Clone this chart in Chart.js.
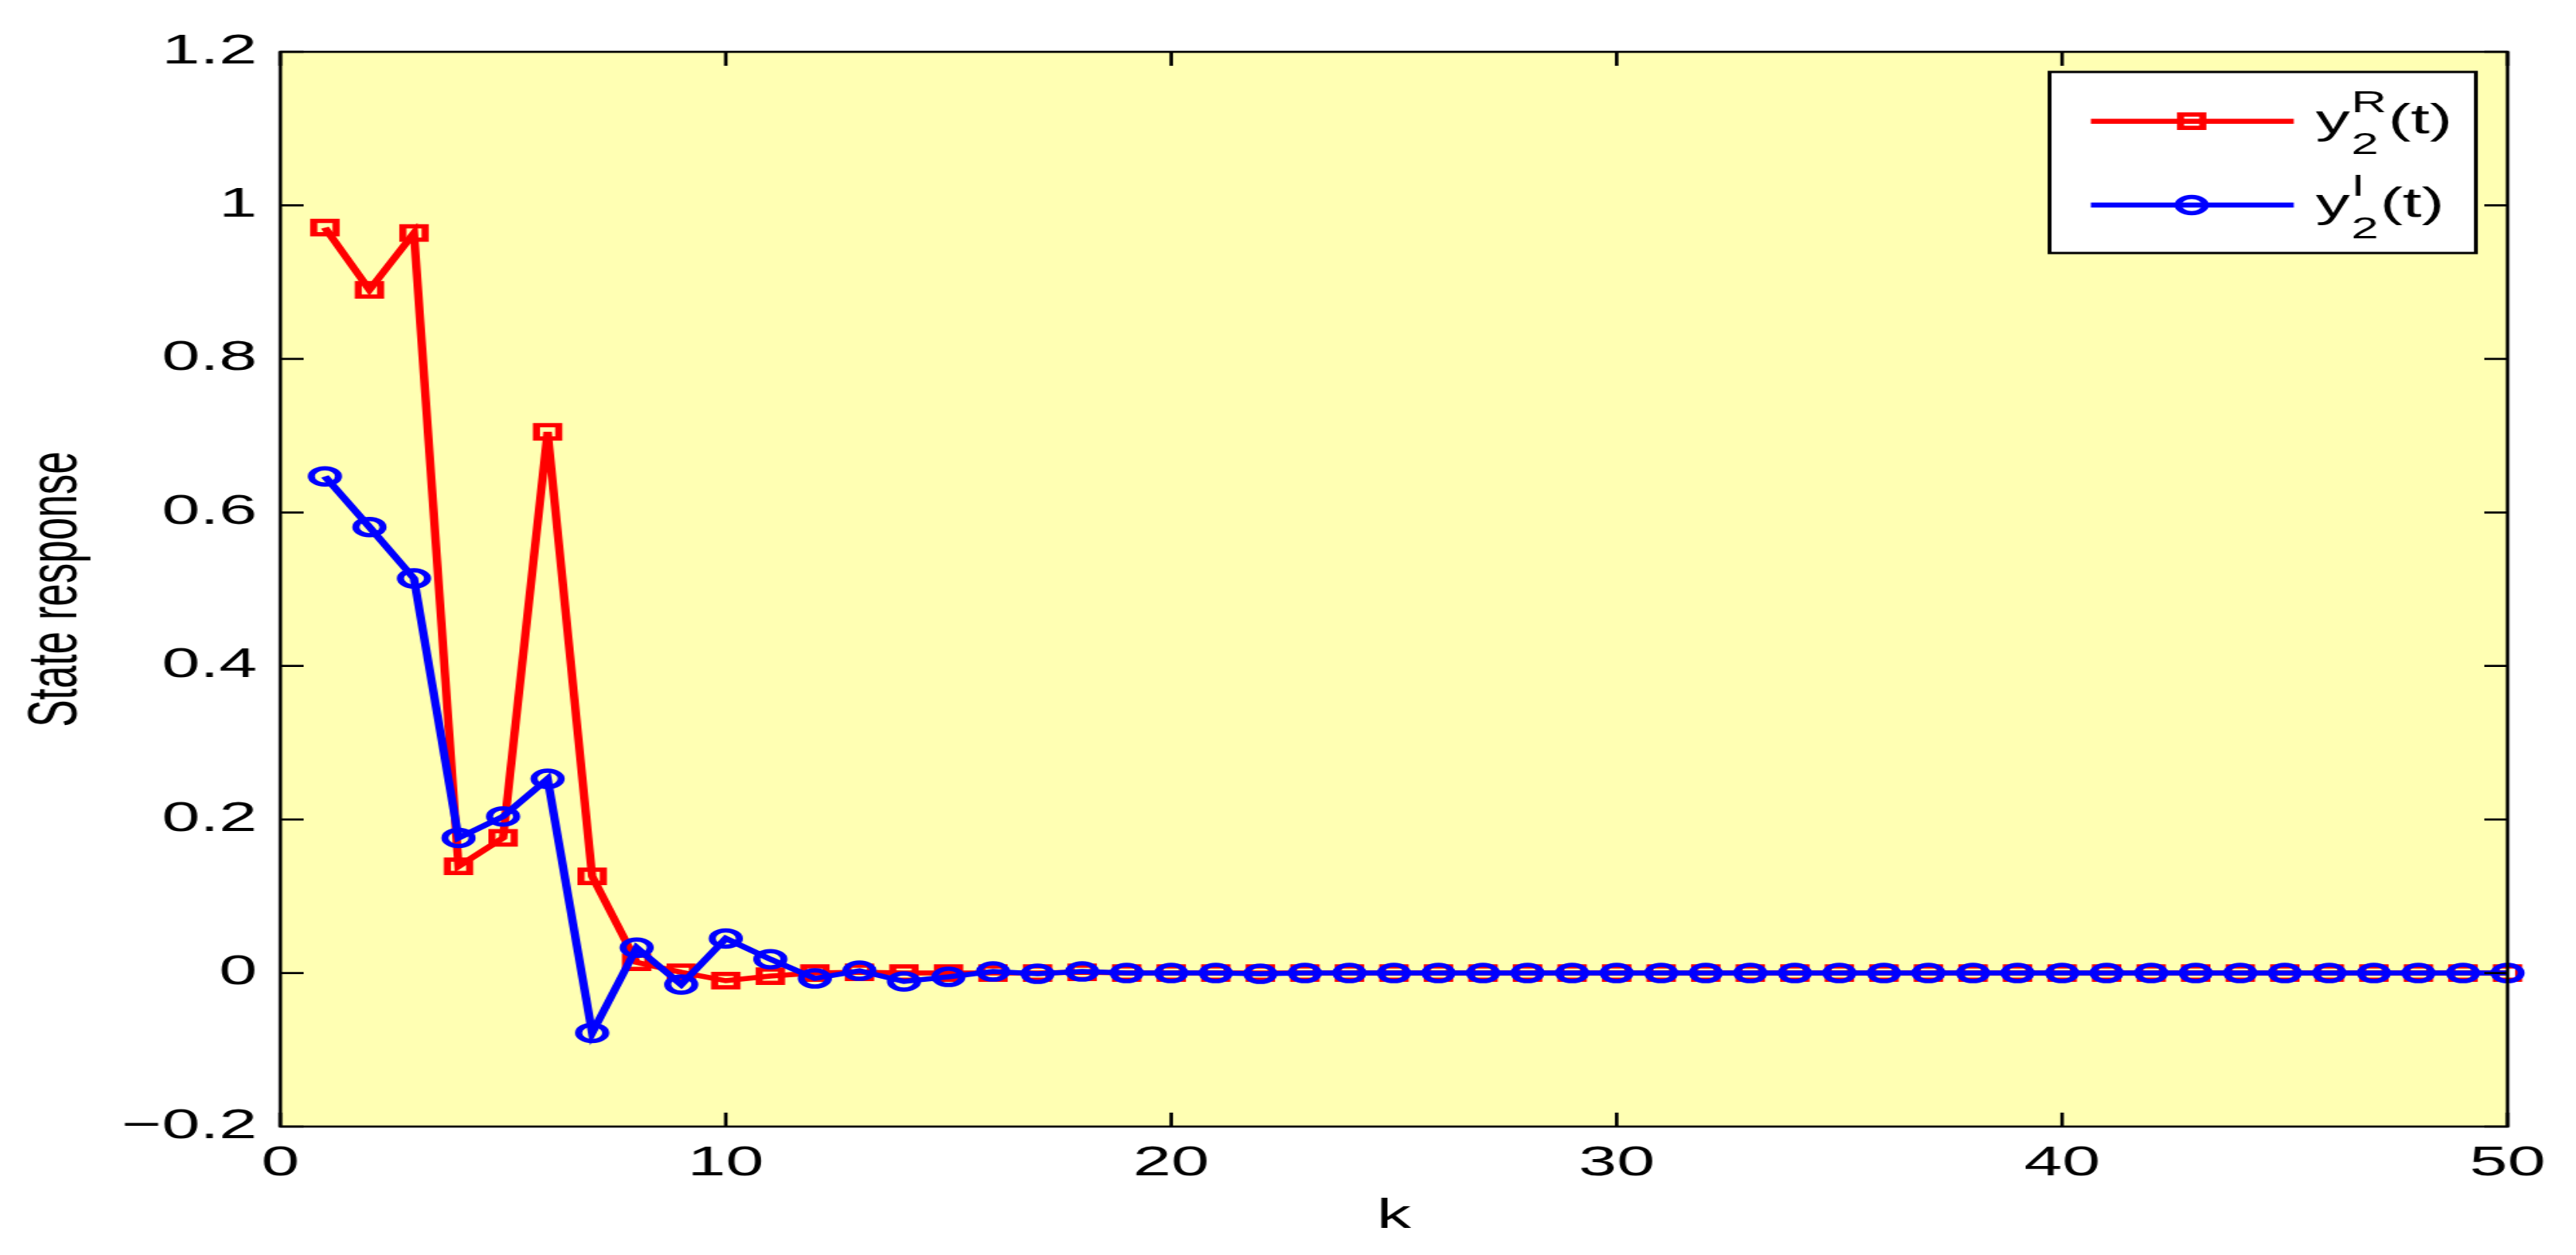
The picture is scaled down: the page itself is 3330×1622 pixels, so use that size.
<!DOCTYPE html>
<html>
<head>
<meta charset="utf-8">
<script src="https://cdn.jsdelivr.net/npm/chart.js@4"></script>
<style>
html,body{margin:0;padding:0;background:#fff;overflow:hidden;}
#wrap{position:absolute;left:0;top:0;width:1994px;height:1622px;transform:scaleX(1.67);transform-origin:0 0;}
</style>
</head>
<body>
<div id="wrap"><canvas id="stateChart"></canvas></div>
<script>
// time steps k
const kValues = [1,2,3,4,5,6,7,8,9,10,11,12,13,14,15,16,17,18,19,20,21,22,23,24,25,26,27,28,29,30,31,32,33,34,35,36,37,38,39,40,41,42,43,44,45,46,47,48,49,50];

// y2^R(t), real part
const yReal = [0.971,0.890,0.964,0.139,0.176,0.705,0.126,0.014,0.001,-0.010,-0.004,0.000,0.001,0.000,0.000,0,0,0.001,0,0,0,0,0,0,0,0,0,0,0,0,0,0,0,0,0,0,0,0,0,0,0,0,0,0,0,0,0,0,0,0];

// y2^I(t), imaginary part
const yImag = [0.647,0.581,0.514,0.176,0.204,0.253,-0.078,0.033,-0.015,0.045,0.018,-0.007,0.003,-0.011,-0.005,0.002,-0.001,0.002,0,0,0,-0.001,0,0,0,0,0,0,0,0,0,0,0,0,0,0,0,0,0,0,0,0,0,0,0,0,0,0,0,0];

const xTicks = [0,10,20,30,40,50];
const yTicks = [-0.2,0,0.2,0.4,0.6,0.8,1,1.2];

const legendItems = [
{base:"y",sub:"2",sup:"R",tail:"(t)",color:"#ff0000",marker:"rect"},
{base:"y",sub:"2",sup:"I",tail:"(t)",color:"#0000ff",marker:"circle"}
];

const FONT = '"Liberation Sans", Arial, Helvetica, sans-serif';
Chart.defaults.font.family = FONT;
Chart.defaults.color = "#000";

function drawMarker(ctx,type,x,y,color){
ctx.save();
ctx.strokeStyle = color;
ctx.lineWidth = 5.5;
ctx.beginPath();
if(type==="rect"){
ctx.rect(x-8.6,y-8.6,17.2,17.2);
}else{
ctx.arc(x,y,10.5,0,Math.PI*2);
}
ctx.stroke();
ctx.restore();
}

const framePlugin = {
id:"frame",
beforeDraw(chart){
const {ctx,chartArea:a} = chart;
ctx.save();
ctx.fillStyle = "#ffffb3";
ctx.fillRect(a.left,a.top,a.right-a.left,a.bottom-a.top);
ctx.restore();
},
afterDraw(chart){
const {ctx,chartArea:a,scales} = chart;
const x = scales.x, y = scales.y;
ctx.save();
ctx.strokeStyle = "#000";
ctx.lineWidth = 2.7;
ctx.strokeRect(a.left,a.top,a.right-a.left,a.bottom-a.top);
ctx.beginPath();
xTicks.forEach(v=>{
const px = x.getPixelForValue(v);
ctx.moveTo(px,a.bottom); ctx.lineTo(px,a.bottom-18);
ctx.moveTo(px,a.top); ctx.lineTo(px,a.top+18);
});
yTicks.forEach(v=>{
const py = y.getPixelForValue(v);
ctx.moveTo(a.left,py); ctx.lineTo(a.left+18,py);
ctx.moveTo(a.right,py); ctx.lineTo(a.right-18,py);
});
ctx.stroke();

// legend box
const bw = 330, bh = 234;
const bx = a.right-24.5-bw, by = a.top+26;
ctx.fillStyle = "#fff";
ctx.fillRect(bx,by,bw,bh);
ctx.lineWidth = 3;
ctx.strokeRect(bx,by,bw,bh);

const rows = [63.7,172];
legendItems.forEach((it,i)=>{
const ry = by+rows[i];
ctx.strokeStyle = it.color;
ctx.lineWidth = 6.5;
ctx.beginPath();
ctx.moveTo(bx+32,ry);
ctx.lineTo(bx+189,ry);
ctx.stroke();
drawMarker(ctx,it.marker,bx+110,ry,it.color);

ctx.fillStyle = "#000";
ctx.textBaseline = "alphabetic";
ctx.textAlign = "left";
let tx = bx+206;
ctx.font = "53px "+FONT;
ctx.fillText(it.base,tx,ry+15);
tx += ctx.measureText(it.base).width;
ctx.font = "38px "+FONT;
ctx.fillText(it.sup,tx+1,ry-11.7);
ctx.fillText(it.sub,tx+1,ry+42.6);
const w = Math.max(ctx.measureText(it.sup).width,ctx.measureText(it.sub).width);
tx += w+2;
ctx.font = "53px "+FONT;
ctx.fillText(it.tail,tx,ry+15);
});
ctx.restore();
}
};

const ctx = document.getElementById("stateChart");

new Chart(ctx,{
type:"line",
data:{
datasets:[
{
label:"y2R(t)",
data:kValues.map((k,i)=>({x:k,y:yReal[i]})),
borderColor:"#ff0000",
backgroundColor:"rgba(0,0,0,0)",
borderWidth:6.5,
pointStyle:"rect",
pointRadius:12.2,
pointBorderWidth:5.5,
pointBorderColor:"#ff0000",
pointBackgroundColor:"rgba(0,0,0,0)",
tension:0,
clip:false,
order:1
},
{
label:"y2I(t)",
data:kValues.map((k,i)=>({x:k,y:yImag[i]})),
borderColor:"#0000ff",
backgroundColor:"rgba(0,0,0,0)",
borderWidth:6.5,
pointStyle:"circle",
pointRadius:10.5,
pointBorderWidth:5.5,
pointBorderColor:"#0000ff",
pointBackgroundColor:"rgba(0,0,0,0)",
tension:0,
clip:false,
order:0
}
]
},
options:{
responsive:true,
maintainAspectRatio:false,
animation:false,
events:[],
layout:{
padding:{left:0,top:67,right:53,bottom:0}
},
plugins:{
legend:{display:false},
tooltip:{enabled:false}
},
scales:{
x:{
type:"linear",
min:0,
max:50,
afterBuildTicks:s=>{s.ticks = xTicks.map(v=>({value:v}));},
afterFit:s=>{s.height = 166;},
grid:{display:false,drawTicks:false},
border:{display:false},
ticks:{
font:{size:53},
color:"#000",
padding:17,
maxRotation:0,
callback:v=>String(v)
},
title:{
display:true,
text:"k",
font:{size:53},
color:"#000",
padding:{top:0,bottom:18}
}
},
y:{
type:"linear",
min:-0.2,
max:1.2,
afterBuildTicks:s=>{s.ticks = yTicks.map(v=>({value:v}));},
afterFit:s=>{s.width = 217;},
grid:{display:false,drawTicks:false},
border:{display:false},
ticks:{
font:{size:53},
color:"#000",
padding:18,
callback:v=>{
const r = Math.round(v*10)/10;
return String(r).replace("-","\u2212");
}
},
title:{
display:true,
text:"State response",
font:{size:53},
color:"#000",
padding:{top:13,bottom:0}
}
}
}
},
plugins:[framePlugin]
});
</script>
</body>
</html>
